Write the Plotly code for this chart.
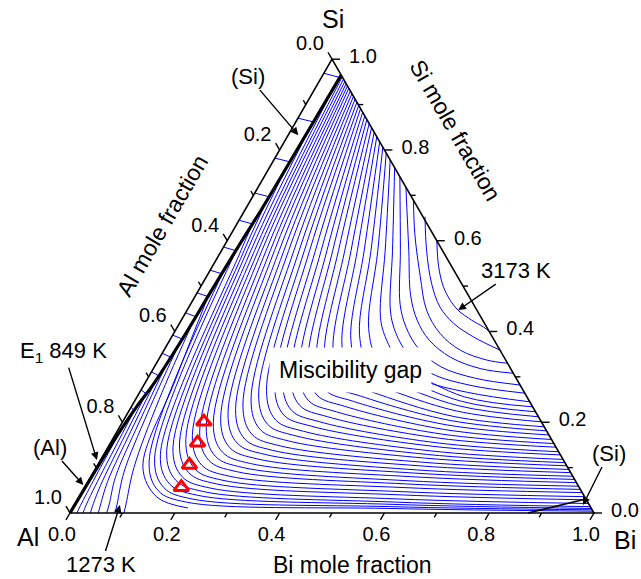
import numpy as np
import plotly.graph_objects as go

# ---------------- data (mole fractions: xBi, xSi) ----------------
TICKS_MAJOR = [0.0, 0.2, 0.4, 0.6, 0.8, 1.0]
TICKS_MINOR = [0.1, 0.3, 0.5, 0.7, 0.9]
TICK_TEXT = ["0.0", "0.2", "0.4", "0.6", "0.8", "1.0"]

# monovariant boundary line (thick) near the Al-Si edge
THICK_BI = [0.035, 0.033, 0.031, 0.028, 0.025, 0.023, 0.017, 0.010, 0.004, 0.000]
THICK_SI = [0.965, 0.800, 0.670, 0.600, 0.490, 0.390, 0.280, 0.234, 0.160, 0.000]

# short isotherm segments in the narrow (Si) field
DASH_SI_LEFT = [0.969, 0.870, 0.782, 0.705, 0.645, 0.586, 0.535, 0.485, 0.441, 0.392, 0.352, 0.311, 0.271, 0.233]
DASH_SI_RIGHT = [0.960, 0.862, 0.774, 0.697, 0.637, 0.578, 0.527, 0.477, 0.433, 0.384, 0.344, 0.303, 0.263, 0.225]
DASH_BI_RIGHT = [0.034, 0.033, 0.032, 0.031, 0.030, 0.028, 0.027, 0.025, 0.023, 0.021, 0.019, 0.017, 0.014, 0.010]

# liquidus isotherms, 3173 K (first) down to 973 K (last), read point by point
ISO_BI = [
    [0.400, 0.432, 0.463, 0.491, 0.517, 0.554, 0.584, 0.600],
    [0.351, 0.391, 0.437, 0.479, 0.523, 0.576, 0.641],
    [0.311, 0.350, 0.408, 0.457, 0.508, 0.565, 0.627, 0.670],
    [0.282, 0.357, 0.410, 0.450, 0.495, 0.555, 0.625, 0.692],
    [0.259, 0.341, 0.400, 0.437, 0.482, 0.545, 0.625, 0.718],
    [0.239, 0.326, 0.389, 0.424, 0.470, 0.535, 0.625, 0.736],
    [0.222, 0.312, 0.377, 0.412, 0.458, 0.525, 0.625, 0.755],
    [0.207, 0.298, 0.367, 0.417, 0.483, 0.6245, 0.766],
    [0.194, 0.285, 0.356, 0.406, 0.472, 0.6245, 0.777],
    [0.182, 0.272, 0.345, 0.395, 0.461, 0.6245, 0.788],
    [0.171, 0.259, 0.334, 0.384, 0.450, 0.6245, 0.799],
    [0.161, 0.247, 0.323, 0.373, 0.439, 0.6245, 0.810],
    [0.151, 0.235, 0.312, 0.362, 0.428, 0.6235, 0.819],
    [0.142, 0.223, 0.302, 0.352, 0.418, 0.623, 0.828],
    [0.133, 0.212, 0.291, 0.341, 0.407, 0.6225, 0.838],
    [0.125, 0.201, 0.281, 0.331, 0.397, 0.622, 0.847],
    [0.117, 0.190, 0.270, 0.320, 0.386, 0.6205, 0.855],
    [0.109, 0.179, 0.260, 0.310, 0.376, 0.6205, 0.865],
    [0.102, 0.168, 0.250, 0.300, 0.366, 0.619, 0.872],
    [0.095, 0.158, 0.240, 0.290, 0.356, 0.619, 0.882],
    [0.088, 0.148, 0.230, 0.280, 0.346, 0.6175, 0.889],
    [0.082, 0.138, 0.221, 0.271, 0.337, 0.6165, 0.896],
    [0.076, 0.128, 0.211, 0.261, 0.327, 0.6155, 0.904],
    [0.070, 0.119, 0.202, 0.252, 0.318, 0.6145, 0.911],
    [0.064, 0.110, 0.192, 0.242, 0.308, 0.6135, 0.919],
    [0.059, 0.101, 0.183, 0.233, 0.299, 0.6125, 0.926],
    [0.054, 0.093, 0.174, 0.224, 0.290, 0.6115, 0.933],
    [0.049, 0.085, 0.165, 0.215, 0.281, 0.611, 0.941],
    [0.044, 0.077, 0.157, 0.207, 0.273, 0.6105, 0.948],
    [0.039, 0.070, 0.148, 0.198, 0.264, 0.6095, 0.955],
    [0.034, 0.063, 0.140, 0.190, 0.256, 0.610, 0.964],
    [0.033, 0.056, 0.132, 0.182, 0.248, 0.6095, 0.971],
    [0.032, 0.049, 0.124, 0.174, 0.240, 0.6095, 0.979],
    [0.031, 0.043, 0.116, 0.166, 0.232, 0.609, 0.986],
    [0.030, 0.037, 0.108, 0.158, 0.224, 0.607, 0.990],
    [0.028, 0.101, 0.151, 0.217, 0.605, 0.993],
    [0.027, 0.094, 0.144, 0.210, 0.603, 0.996],
    [0.025, 0.055, 0.0886, 0.1484, 0.2197],
    [0.023, 0.045, 0.072, 0.097, 0.103],
    [0.021, 0.038, 0.058, 0.080, 0.086],
    [0.019, 0.032, 0.047, 0.065, 0.070],
    [0.017, 0.026, 0.037, 0.050, 0.054],
    [0.014, 0.020, 0.028, 0.036, 0.039],
    [0.010, 0.014, 0.019, 0.023, 0.025],
    [0.006, 0.008, 0.011, 0.013],
]
ISO_SI = [
    [0.600, 0.543, 0.499, 0.469, 0.447, 0.425, 0.410, 0.400],
    [0.653, 0.579, 0.506, 0.454, 0.418, 0.388, 0.359],
    [0.689, 0.616, 0.521, 0.447, 0.396, 0.359, 0.337, 0.330],
    [0.718, 0.579, 0.480, 0.425, 0.381, 0.343, 0.318, 0.308],
    [0.741, 0.579, 0.460, 0.409, 0.364, 0.323, 0.297, 0.282],
    [0.761, 0.579, 0.445, 0.396, 0.350, 0.308, 0.281, 0.264],
    [0.778, 0.579, 0.431, 0.383, 0.337, 0.294, 0.266, 0.245],
    [0.793, 0.579, 0.406, 0.341, 0.316, 0.256, 0.234],
    [0.806, 0.579, 0.393, 0.328, 0.303, 0.246, 0.223],
    [0.818, 0.579, 0.382, 0.317, 0.292, 0.236, 0.212],
    [0.829, 0.579, 0.370, 0.305, 0.280, 0.225, 0.201],
    [0.839, 0.579, 0.358, 0.293, 0.268, 0.213, 0.190],
    [0.849, 0.579, 0.347, 0.282, 0.257, 0.204, 0.181],
    [0.858, 0.579, 0.336, 0.271, 0.246, 0.194, 0.172],
    [0.867, 0.579, 0.325, 0.260, 0.235, 0.184, 0.162],
    [0.875, 0.579, 0.313, 0.248, 0.223, 0.174, 0.153],
    [0.883, 0.579, 0.302, 0.237, 0.212, 0.165, 0.145],
    [0.891, 0.579, 0.291, 0.226, 0.201, 0.155, 0.135],
    [0.898, 0.579, 0.281, 0.216, 0.191, 0.147, 0.128],
    [0.905, 0.579, 0.270, 0.205, 0.180, 0.137, 0.118],
    [0.912, 0.579, 0.260, 0.195, 0.170, 0.129, 0.111],
    [0.918, 0.579, 0.249, 0.184, 0.159, 0.121, 0.104],
    [0.924, 0.579, 0.238, 0.173, 0.148, 0.112, 0.096],
    [0.930, 0.579, 0.228, 0.163, 0.138, 0.104, 0.089],
    [0.936, 0.579, 0.219, 0.154, 0.129, 0.095, 0.081],
    [0.941, 0.579, 0.209, 0.144, 0.119, 0.088, 0.074],
    [0.946, 0.579, 0.199, 0.134, 0.109, 0.080, 0.067],
    [0.951, 0.579, 0.190, 0.125, 0.100, 0.071, 0.059],
    [0.956, 0.579, 0.181, 0.116, 0.091, 0.064, 0.052],
    [0.961, 0.579, 0.171, 0.106, 0.081, 0.056, 0.045],
    [0.960, 0.579, 0.162, 0.097, 0.072, 0.047, 0.036],
    [0.862, 0.579, 0.154, 0.089, 0.064, 0.040, 0.029],
    [0.774, 0.579, 0.145, 0.080, 0.055, 0.031, 0.021],
    [0.697, 0.579, 0.137, 0.072, 0.047, 0.024, 0.014],
    [0.637, 0.579, 0.129, 0.064, 0.039, 0.019, 0.010],
    [0.578, 0.121, 0.056, 0.031, 0.014, 0.007],
    [0.527, 0.114, 0.049, 0.024, 0.010, 0.004],
    [0.477, 0.290, 0.101, 0.035, 0.011],
    [0.433, 0.250, 0.100, 0.020, 0.000],
    [0.384, 0.220, 0.090, 0.020, 0.000],
    [0.344, 0.200, 0.080, 0.020, 0.000],
    [0.303, 0.180, 0.070, 0.015, 0.000],
    [0.263, 0.160, 0.060, 0.012, 0.000],
    [0.225, 0.140, 0.050, 0.010, 0.000],
    [0.180, 0.100, 0.030, 0.000],
]

# boundary line near the Bi corner
BI_LINE_BI = [0.874, 0.969]
BI_LINE_SI = [0.000, 0.031]

# experimental alloy compositions
EXP_BI = [0.155, 0.166, 0.175, 0.184]
EXP_SI = [0.201, 0.155, 0.106, 0.057]

SQ = np.sqrt(3) / 2
PX = 1 / 524.0


def xy(b, s):
    b = np.asarray(b, float)
    s = np.asarray(s, float)
    return b + s / 2, s * SQ


fig = go.Figure()

# isotherms
for bb, ss in zip(ISO_BI, ISO_SI):
    x, y = xy(bb, ss)
    fig.add_trace(go.Scatter(x=x, y=y, mode="lines",
                             line=dict(color="#0000ff", width=1, shape="spline", smoothing=1.0),
                             hoverinfo="skip", showlegend=False))

# short isotherms in the (Si) field
for sl, sr, br in zip(DASH_SI_LEFT, DASH_SI_RIGHT, DASH_BI_RIGHT):
    x, y = xy([0.0, br], [sl, sr])
    fig.add_trace(go.Scatter(x=x, y=y, mode="lines", line=dict(color="#0000ff", width=1),
                             hoverinfo="skip", showlegend=False))

# triangle frame
fx, fy = xy([0, 1, 0, 0], [0, 0, 1, 0])
fig.add_trace(go.Scatter(x=fx, y=fy, mode="lines", line=dict(color="black", width=1.6),
                         hoverinfo="skip", showlegend=False))

# thick boundary
tx, ty = xy(THICK_BI, THICK_SI)
fig.add_trace(go.Scatter(x=tx, y=ty, mode="lines", line=dict(color="black", width=3.2, shape="spline"),
                         hoverinfo="skip", showlegend=False))

# black line near Bi corner
lx, ly = xy(BI_LINE_BI, BI_LINE_SI)
fig.add_trace(go.Scatter(x=lx, y=ly, mode="lines", line=dict(color="black", width=1.6),
                         hoverinfo="skip", showlegend=False))


def add_ticks(vals, length):
    xs, ys = [], []
    for v in vals:
        x0, y0 = xy(v, 0)              # bottom (Bi) axis
        xs += [x0, x0 - 0.5 * length * PX, None]
        ys += [y0, y0 - SQ * length * PX, None]
        x0, y0 = xy(1 - v, v)          # right (Si) axis
        xs += [x0, x0 + length * PX, None]
        ys += [y0, y0, None]
        x0, y0 = xy(0, 1 - v)          # left (Al) axis
        xs += [x0, x0 - 0.5 * length * PX, None]
        ys += [y0, y0 + SQ * length * PX, None]
    fig.add_trace(go.Scatter(x=xs, y=ys, mode="lines", line=dict(color="black", width=1.4),
                             hoverinfo="skip", showlegend=False))


add_ticks(TICKS_MAJOR, 8)
add_ticks(TICKS_MINOR, 5)

FONT = "Liberation Sans, Arial, sans-serif"
TF = dict(family=FONT, size=20, color="black")

bx, by = xy(TICKS_MAJOR, [0] * 6)
fig.add_trace(go.Scatter(x=bx - 8 * PX, y=by - 23 * PX, mode="text", text=TICK_TEXT, textfont=TF,
                         hoverinfo="skip", showlegend=False))
rx, ry = xy([1 - v for v in TICKS_MAJOR], TICKS_MAJOR)
fig.add_trace(go.Scatter(x=rx + 31 * PX, y=ry + 1 * PX, mode="text", text=TICK_TEXT, textfont=TF,
                         hoverinfo="skip", showlegend=False))
lx_, ly_ = xy([0] * 6, [1 - v for v in TICKS_MAJOR])
fig.add_trace(go.Scatter(x=lx_ - 22 * PX, y=ly_ + 14 * PX, mode="text", text=TICK_TEXT, textfont=TF,
                         hoverinfo="skip", showlegend=False))

# experimental points
ex, ey = xy(EXP_BI, EXP_SI)
fig.add_trace(go.Scatter(x=ex, y=ey, mode="markers",
                         marker=dict(symbol="triangle-up-open", size=13, color="red",
                                     line=dict(width=3, color="red")),
                         hoverinfo="skip", showlegend=False))

annotations = []


def text(b, s, t, size=23, angle=0, bg=None):
    x, y = xy(b, s)
    d = dict(x=float(x), y=float(y), text=t, showarrow=False, xanchor="center", yanchor="middle",
             font=dict(family=FONT, size=size, color="black"), textangle=angle)
    if bg:
        d.update(bgcolor=bg, borderpad=9)
    annotations.append(d)


def label_arrow(tb, ts, t, hb, hs, size=22):
    """Label centred at composition (tb, ts) with an arrow to (hb, hs)."""
    x0, y0 = xy(tb, ts)
    x1, y1 = xy(hb, hs)
    annotations.append(dict(x=float(x1), y=float(y1), ax=float(x0), ay=float(y0), axref="x", ayref="y",
                            xref="x", yref="y", text=t, showarrow=True, arrowhead=2, arrowsize=1.1,
                            arrowwidth=1.4, arrowcolor="black", borderpad=1,
                            font=dict(family=FONT, size=size, color="black")))


text(-0.042, 1.088, "Si", 25)
text(-0.054, -0.053, "Al", 25)
text(1.089, -0.060, "Bi", 25)
text(0.5955, -0.1145, "Bi mole fraction", 23)
text(-0.140, 0.634, "Al mole fraction", 23, -60)
text(0.313, 0.8436, "Si mole fraction", 23, 60)
text(0.378, 0.316, "Miscibility gap", 23, 0, "white")

label_arrow(-0.1416, 0.9626, "(Si)", 0.0194, 0.8326)
label_arrow(-0.1888, 0.3546, "E<sub>1</sub> 849 K", -0.007, 0.1167)
label_arrow(-0.1118, 0.1454, "(Al)", -0.0054, 0.0617)
label_arrow(0.1165, -0.1145, "1273 K", 0.0866, 0.0176)
label_arrow(0.5835, 0.5352, "3173 K", 0.5174, 0.4471)
label_arrow(0.9625, 0.1322, "(Si)", 0.9702, 0.0176)

fig.update_layout(
    width=641, height=579, margin=dict(l=0, r=0, t=0, b=0), autosize=False,
    paper_bgcolor="white", plot_bgcolor="white",
    xaxis=dict(range=[-70 / 524, (641 - 70) / 524], visible=False, fixedrange=True),
    yaxis=dict(range=[-(579 - 513) / 524, 513 / 524], visible=False, fixedrange=True),
    annotations=annotations,
)

fig.write_html("out.html", config={"displayModeBar": False},
               post_script="document.body.style.margin='0px';document.body.style.overflow='hidden';")
